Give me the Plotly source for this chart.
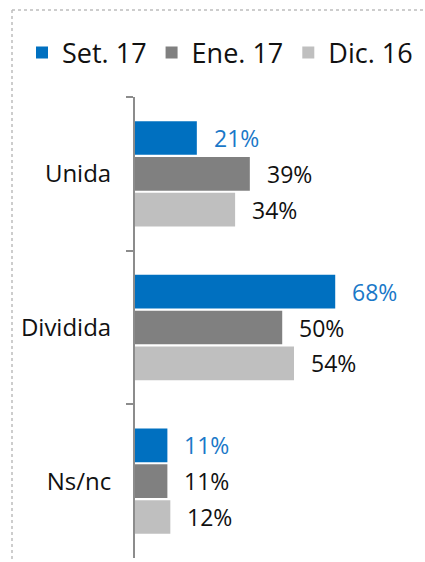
import plotly.graph_objects as go

categories = ["Unida", "Dividida", "Ns/nc"]
series_names = ["Set. 17", "Ene. 17", "Dic. 16"]
set17 = [21, 68, 11]
ene17 = [39, 50, 11]
dic16 = [34, 54, 12]
series_values = [set17, ene17, dic16]

colors = ["#0070C0", "#808080", "#BFBFBF"]
label_colors = ["#1A78C8", "#111111", "#111111"]

W, H = 425, 562
L, R, T, B = 135, 25, 97, 4
plot_w = W - L - R
plot_h = H - T - B
FONT = "Open Sans"

fig = go.Figure()
for name, vals, col in zip(series_names, series_values, colors):
    fig.add_trace(go.Bar(
        y=categories, x=vals, name=name, orientation="h",
        marker=dict(color=col, line=dict(width=0)),
        hoverinfo="skip",
    ))

# value labels
cat_px = plot_h / len(categories)
bargap, bargroupgap = 0.3, 0.06
slot = cat_px * (1 - bargap) / len(series_names)
annotations = []
for i, (vals, lc) in enumerate(zip(series_values, label_colors)):
    offset = (1 - i) * slot
    for c, v in zip(categories, vals):
        annotations.append(dict(
            x=v, y=c, xref="x", yref="y", text=f"{v}%", showarrow=False,
            xanchor="left", yanchor="middle", xshift=15, yshift=offset,
            font=dict(family=FONT, size=23, color=lc),
        ))

def px_x(p):
    return (p - L) / plot_w

def px_y(p):
    return 1 - (p - T) / plot_h

shapes = [
    dict(type="line", xref="paper", yref="paper", x0=px_x(12), x1=px_x(12),
         y0=px_y(10), y1=px_y(H + 5), line=dict(color="#BDBDBD", width=1.5, dash="dot")),
    dict(type="line", xref="paper", yref="paper", x0=px_x(12), x1=px_x(W + 5),
         y0=px_y(10), y1=px_y(10), line=dict(color="#BDBDBD", width=1.5, dash="dot")),
]

fig.update_layout(
    width=W, height=H,
    margin=dict(l=L, r=R, t=T, b=B, pad=0, autoexpand=False),
    paper_bgcolor="white", plot_bgcolor="white",
    barmode="group", bargap=bargap, bargroupgap=bargroupgap,
    font=dict(family=FONT, color="#111111"),
    showlegend=True,
    legend=dict(
        orientation="h", x=px_x(22), y=px_y(53), xanchor="left", yanchor="middle",
        font=dict(family=FONT, size=27, color="#111111"),
        traceorder="normal", itemclick=False, itemdoubleclick=False,
        bgcolor="rgba(0,0,0,0)",
    ),
    xaxis=dict(range=[0, 90], visible=False, fixedrange=True, automargin=False),
    yaxis=dict(
        autorange="reversed", type="category", automargin=False,
        showline=True, linecolor="#8C8C8C", linewidth=2,
        ticks="outside", ticklen=7, tickwidth=1.5, tickcolor="#8C8C8C",
        tickson="boundaries", ticklabelstandoff=17,
        tickfont=dict(family=FONT, size=24, color="#111111"),
        showgrid=False, zeroline=False, fixedrange=True,
    ),
    annotations=annotations,
    shapes=shapes,
)

fig.write_html(
    "out.html",
    config={"displayModeBar": False},
    post_script="document.body.style.margin='0';document.body.style.overflow='hidden';",
)
